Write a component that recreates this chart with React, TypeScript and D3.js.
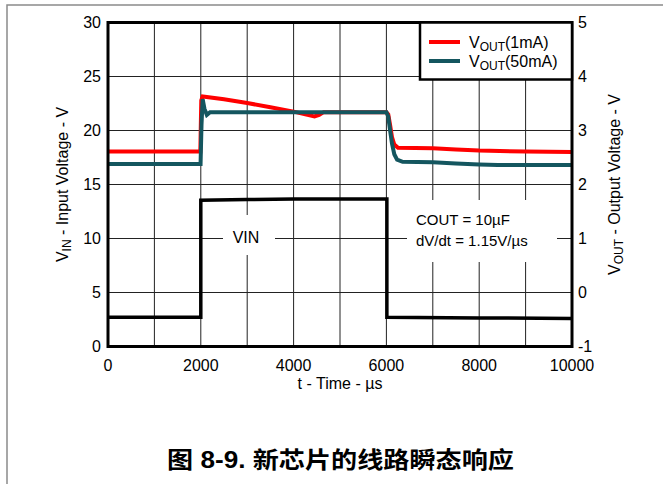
import React from "react";
import * as d3 from "d3";

// ---- data ----
const xTicks = [0, 2000, 4000, 6000, 8000, 10000];
const leftTicks = [0, 5, 10, 15, 20, 25, 30];
const rightTicks = [-1, 0, 1, 2, 3, 4, 5];

// VIN (left axis, V)
const vinT = [0, 2000, 2000, 3000, 4000, 6010, 6010, 8000, 10000];
const vinV = [2.7, 2.7, 13.55, 13.6, 13.65, 13.65, 2.7, 2.65, 2.6];

// VOUT(1mA) (right axis, V)
const v1T = [0, 1990, 2010, 2040, 2500, 3000, 3500, 4000, 4300, 4450, 4550, 4650, 6000, 6040, 6080, 6120, 6170, 6250, 7000, 7500, 8000, 9000, 10000];
const v1V = [2.61, 2.61, 3.56, 3.63, 3.58, 3.51, 3.43, 3.35, 3.29, 3.26, 3.29, 3.34, 3.34, 3.30, 3.10, 2.88, 2.74, 2.68, 2.67, 2.65, 2.63, 2.61, 2.60];

// VOUT(50mA) (right axis, V)
const v50T = [0, 1995, 2015, 2040, 2080, 2130, 2200, 6000, 6040, 6080, 6120, 6170, 6230, 6350, 7000, 7500, 8000, 8400, 10000];
const v50V = [2.38, 2.38, 3.10, 3.58, 3.40, 3.29, 3.34, 3.34, 3.26, 3.00, 2.76, 2.56, 2.46, 2.42, 2.41, 2.39, 2.37, 2.36, 2.36];

const W = 663;
const H = 484;
const L = 108, R = 572, T = 22.5, B = 346.5;
const FONT = "'Liberation Sans', Arial, 'Noto Sans CJK SC', sans-serif";

export default function App() {
  const x = d3.scaleLinear().domain([0, 10000]).range([L, R]);
  const yL = d3.scaleLinear().domain([0, 30]).range([B, T]);
  const yR = d3.scaleLinear().domain([-1, 5]).range([B, T]);

  const lineL = d3.line<[number, number]>().x(d => x(d[0])).y(d => yL(d[1]));
  const lineR = d3.line<[number, number]>().x(d => x(d[0])).y(d => yR(d[1]));

  const vin = vinT.map((t, i) => [t, vinV[i]] as [number, number]);
  const v1 = v1T.map((t, i) => [t, v1V[i]] as [number, number]);
  const v50 = v50T.map((t, i) => [t, v50V[i]] as [number, number]);

  const vGrid = d3.range(1000, 10000, 1000);
  const hGrid = [5, 10, 15, 20, 25];

  return (
    <svg width={W} height={H} style={{ position: "absolute", left: 0, top: 0, background: "#fff" }} fontFamily={FONT}>
      <rect x={7} y={5} width={720} height={520} fill="none" stroke="#8a8a8a" strokeWidth={1.5} />

      {vGrid.map(t => (
        <line key={"v" + t} x1={x(t)} x2={x(t)} y1={T} y2={B} stroke="#222" strokeWidth={1} />
      ))}
      {hGrid.map(v => (
        <line key={"h" + v} x1={L} x2={R} y1={yL(v)} y2={yL(v)} stroke="#222" strokeWidth={1} />
      ))}

      {/* white boxes behind annotations */}
      <rect x={223} y={215} width={52} height={40} fill="#fff" />
      <rect x={407} y={200} width={150} height={62} fill="#fff" />

      <path d={lineL(vin) || ""} fill="none" stroke="#000" strokeWidth={3.5} strokeLinejoin="miter" />
      <path d={lineR(v1) || ""} fill="none" stroke="#ff0000" strokeWidth={4} />
      <path d={lineR(v50) || ""} fill="none" stroke="#14565f" strokeWidth={4} />

      <rect x={L} y={T} width={R - L} height={B - T} fill="none" stroke="#000" strokeWidth={3} />

      {/* legend */}
      <rect x={420} y={T} width={R - 420} height={57} fill="#fff" stroke="#000" strokeWidth={2.5} />
      <line x1={429} x2={460} y1={42} y2={42} stroke="#ff0000" strokeWidth={4} />
      <line x1={429} x2={460} y1={61} y2={61} stroke="#14565f" strokeWidth={4} />
      <text x={469} y={47.5} fontSize={16} fill="#000">
        V<tspan fontSize={12} dy={3}>OUT</tspan><tspan dy={-3}>(1mA)</tspan>
      </text>
      <text x={469} y={66.5} fontSize={16} fill="#000">
        V<tspan fontSize={12} dy={3}>OUT</tspan><tspan dy={-3}>(50mA)</tspan>
      </text>

      {/* annotations */}
      <text x={246} y={242.5} fontSize={16} textAnchor="middle" fill="#000">VIN</text>
      <text x={416} y={224.5} fontSize={15} fill="#000">COUT = 10µF</text>
      <text x={416} y={245.5} fontSize={15} fill="#000">dV/dt = 1.15V/µs</text>

      {/* ticks */}
      {leftTicks.map(v => (
        <text key={"lt" + v} x={101} y={yL(v) + 5.5} fontSize={16} textAnchor="end" fill="#000">{v}</text>
      ))}
      {rightTicks.map(v => (
        <text key={"rt" + v} x={578} y={yR(v) + 5.5} fontSize={16} textAnchor="start" fill="#000">{v}</text>
      ))}
      {xTicks.map(t => (
        <text key={"xt" + t} x={x(t)} y={371} fontSize={16} textAnchor="middle" fill="#000">{t}</text>
      ))}

      {/* axis titles */}
      <text x={(L + R) / 2} y={389} fontSize={16} textAnchor="middle" fill="#000">t - Time - µs</text>
      <text transform={`translate(68,${(T + B) / 2}) rotate(-90)`} fontSize={16} textAnchor="middle" fill="#000">
        V<tspan fontSize={12} dy={3}>IN</tspan><tspan dy={-3}> - Input Voltage - V</tspan>
      </text>
      <text transform={`translate(620,${(T + B) / 2}) rotate(-90)`} fontSize={16} textAnchor="middle" fill="#000">
        V<tspan fontSize={12} dy={3}>OUT</tspan><tspan dy={-3}> - Output Voltage - V</tspan>
      </text>

      {/* caption */}
      <text x={167} y={468} fontSize={23} fontWeight="bold" fill="#000" textLength={347} lengthAdjust="spacingAndGlyphs"
        fontFamily="'Liberation Sans', Arial, 'Noto Sans CJK SC', sans-serif">
        图 8-9. 新芯片的线路瞬态响应
      </text>
    </svg>
  );
}
